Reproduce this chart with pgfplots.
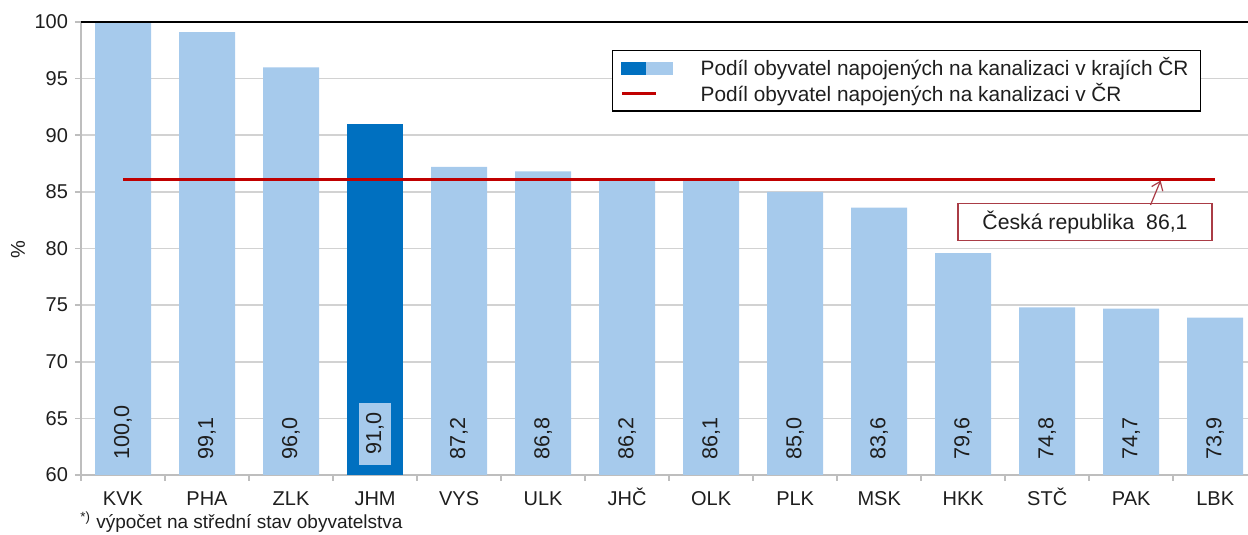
\documentclass[border=0pt]{standalone}
\usepackage{fontspec}
\setmainfont{Liberation Sans}
\usepackage{pgfplots}
\pgfplotsset{compat=1.18}
\usepackage{pgfplotstable}
\usetikzlibrary{arrows.meta}
\definecolor{lb}{RGB}{166,202,236}
\definecolor{db}{RGB}{0,112,192}
\definecolor{rl}{RGB}{192,0,0}
\definecolor{bx}{RGB}{170,60,70}
\definecolor{gr}{RGB}{190,190,190}
\definecolor{tx}{RGB}{30,30,30}

\pgfplotstableread{
x y lab pos
0 100.0 100,0 60
1 99.1 99,1 60
2 96.0 96,0 60
4 87.2 87,2 60
5 86.8 86,8 60
6 86.2 86,2 60
7 86.1 86,1 60
8 85.0 85,0 60
9 83.6 83,6 60
10 79.6 79,6 60
11 74.8 74,8 60
12 74.7 74,7 60
13 73.9 73,9 60
}\light
\pgfplotstableread{
x y lab pos
3 91.0 91,0 60
}\dark

\begin{document}
\begin{tikzpicture}
\useasboundingbox (0,0) rectangle (624pt,267.5pt);
\begin{axis}[
  at={(40.5pt,30pt)}, anchor=south west,
  scale only axis, width=583.5pt, height=226.5pt,
  xmin=-0.5, xmax=13.39, ymin=60, ymax=100,
  axis x line*=bottom, axis y line*=left,
  axis line style={gr, line width=0.8pt},
  xtick={0,...,13},
  xticklabels={KVK,PHA,ZLK,JHM,VYS,ULK,JHČ,OLK,PLK,MSK,HKK,STČ,PAK,LBK},
  major x tick style={draw=none},
  minor xtick={-0.5,0.5,...,12.5},
  minor x tick style={gr, line width=0.8pt},
  minor tick length=3pt,
  ytick={60,65,...,100},
  y tick style={gr, line width=0.8pt},
  major tick length=3pt,
  tick align=outside,
  ymajorgrids, grid style={gr!70, line width=0.8pt},
  tick label style={font=\fontsize{10}{12}\selectfont, text=tx},
  /pgf/number format/assume math mode=true,
  xticklabel style={anchor=north, text height=7.5pt, text depth=0pt, yshift=-1pt},
  clip=false,
  legend style={at={(0.455,0.938)}, anchor=north west, draw=black, line width=0.6pt,
    font=\fontsize{10.4}{12}\selectfont, text=tx, inner ysep=1.5pt, inner xsep=4pt,
    row sep=-2pt, column sep=12pt, cells={anchor=west}},
  legend cell align=left,
]
\addplot[ybar, bar width=28pt, fill=lb, draw=none, forget plot] table[x=x,y=y] {\light};
\addplot[ybar, bar width=28pt, fill=db, draw=none, forget plot] table[x=x,y=y] {\dark};
\draw[black, line width=0.8pt] (rel axis cs:0,1) -- (rel axis cs:1,1);
\addlegendimage{legend image code/.code={
  \fill[db] (0pt,-3pt) rectangle (12.5pt,3pt);
  \fill[lb] (12.5pt,-3pt) rectangle (25pt,3pt);}}
\addlegendentry{Podíl obyvatel napojených na kanalizaci v krajích ČR}
\addplot[rl, line width=1.5pt] coordinates {(0,86.1) (13,86.1)};
\addlegendentry{Podíl obyvatel napojených na kanalizaci v ČR}
\addplot[draw=none, mark=none, forget plot, point meta=explicit symbolic,
  nodes near coords, nodes near coords style={rotate=90, anchor=west, inner xsep=0pt, xshift=7.5pt,
  font=\fontsize{10.8}{12}\selectfont, text=tx}]
  table[x=x, y=pos, meta=lab] {\light};
\addplot[draw=none, mark=none, forget plot, point meta=explicit symbolic,
  nodes near coords, nodes near coords style={rotate=90, anchor=west, xshift=5pt,
  fill=lb, inner xsep=5pt, inner ysep=3.5pt, font=\fontsize{10.8}{12}\selectfont, text=tx}]
  table[x=x, y=pos, meta=lab] {\dark};
\node[draw=bx, fill=white, line width=0.6pt, minimum width=127pt, minimum height=17.5pt,
  font=\fontsize{10.6}{12}\selectfont, text=tx] at (axis cs:11.45,82.34) {Česká republika\ \ 86,1};
\draw[bx, line width=0.6pt, -{Straight Barb[length=4pt,width=6pt]}] (axis cs:12.23,83.84) -- (axis cs:12.35,86.0);
\end{axis}
\node[rotate=90, font=\fontsize{10}{12}\selectfont, text=tx] at (9pt,142.5pt) {\%};
\node[anchor=west, inner sep=0pt, font=\fontsize{9.5}{11}\selectfont, text=tx] at (40pt,6.5pt) {\textsuperscript{*)} výpočet na střední stav obyvatelstva};
\end{tikzpicture}
\end{document}
